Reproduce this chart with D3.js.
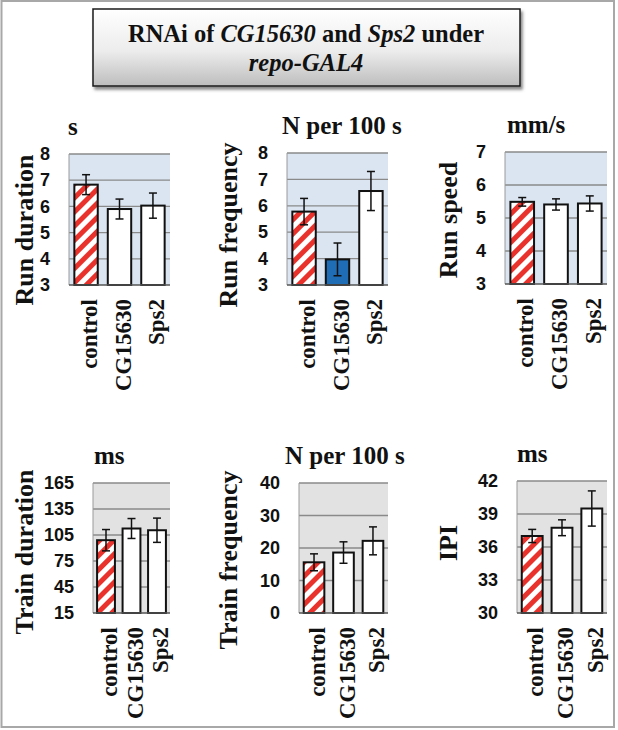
<!DOCTYPE html>
<html><head><meta charset="utf-8">
<script src="https://cdn.jsdelivr.net/npm/d3@7"></script>
<style>body{margin:0;background:#fff} svg{display:block}</style>
</head><body><svg id="c" width="618" height="730"></svg>
<script>
// ---------------- data ----------------
const categories = ["control", "CG15630", "Sps2"];

const runDuration = [6.83, 5.9, 6.03];
const runDurationErr = [0.38, 0.38, 0.48];
const runDurationTicks = [3, 4, 5, 6, 7, 8];

const runFrequency = [5.78, 3.97, 6.56];
const runFrequencyErr = [0.5, 0.62, 0.74];
const runFrequencyTicks = [3, 4, 5, 6, 7, 8];

const runSpeed = [5.49, 5.41, 5.44];
const runSpeedErr = [0.13, 0.17, 0.23];
const runSpeedTicks = [3, 4, 5, 6, 7];

const trainDuration = [99, 112.5, 110.5];
const trainDurationErr = [12.3, 11.5, 14];
const trainDurationTicks = [15, 45, 75, 105, 135, 165];

const trainFrequency = [15.6, 18.6, 22.2];
const trainFrequencyErr = [2.6, 3.3, 4.3];
const trainFrequencyTicks = [0, 10, 20, 30, 40];

const ipi = [37.0, 37.75, 39.5];
const ipiErr = [0.6, 0.72, 1.6];
const ipiTicks = [30, 33, 36, 39, 42];

const metricNames = ["Run duration", "Run frequency", "Run speed", "Train duration", "Train frequency", "IPI"];
const metricUnits = ["s", "N per 100 s", "mm/s", "ms", "N per 100 s", "ms"];
const significant = [[], ["CG15630"], [], [], [], []];

// ---------------- layout / style ----------------
const svg = d3.select("#c");
const serif = "'Liberation Serif','Times New Roman',serif";
const sans = "'Liberation Sans',Arial,sans-serif";
const RED = "#e8322b", BLUE = "#1f6db5", BGBLUE = "#dbe5f1", BGGRAY = "#e2e2e2";

const defs = svg.append("defs");
const pat = defs.append("pattern").attr("id", "stripes").attr("patternUnits", "userSpaceOnUse")
  .attr("width", 10).attr("height", 10).attr("patternTransform", "rotate(45)");
pat.append("rect").attr("width", 10).attr("height", 10).attr("fill", "#fff");
pat.append("rect").attr("width", 5).attr("height", 10).attr("fill", RED);

const grad = defs.append("linearGradient").attr("id", "tgrad").attr("x1", 0).attr("y1", 0).attr("x2", 0).attr("y2", 1);
grad.append("stop").attr("offset", "0%").attr("stop-color", "#ffffff");
grad.append("stop").attr("offset", "55%").attr("stop-color", "#ececec");
grad.append("stop").attr("offset", "100%").attr("stop-color", "#bdbdbd");
const filt = defs.append("filter").attr("id", "shadow").attr("x", "-5%").attr("y", "-10%").attr("width", "115%").attr("height", "140%");
filt.append("feDropShadow").attr("dx", 2).attr("dy", 3).attr("stdDeviation", 1.8).attr("flood-color", "#555").attr("flood-opacity", 0.7);

// outer frame
svg.append("rect").attr("x", 1.5).attr("y", 1).attr("width", 612.5).attr("height", 726)
  .attr("fill", "none").attr("stroke", "#a8a8a8").attr("stroke-width", 2);

// title box
svg.append("rect").attr("x", 93).attr("y", 9).attr("width", 427).attr("height", 77)
  .attr("fill", "url(#tgrad)").attr("stroke", "#1a1a1a").attr("stroke-width", 1.5).attr("filter", "url(#shadow)");
const t1 = svg.append("text").attr("x", 306).attr("y", 42).attr("text-anchor", "middle")
  .attr("font-family", serif).attr("font-weight", "bold").attr("font-size", 24.5).attr("fill", "#111");
t1.append("tspan").text("RNAi of ");
t1.append("tspan").attr("font-style", "italic").text("CG15630");
t1.append("tspan").text(" and ");
t1.append("tspan").attr("font-style", "italic").text("Sps2");
t1.append("tspan").text(" under");
svg.append("text").attr("x", 306).attr("y", 71).attr("text-anchor", "middle")
  .attr("font-family", serif).attr("font-weight", "bold").attr("font-style", "italic").attr("font-size", 24.5)
  .attr("fill", "#111").text("repo-GAL4");

const layout = [
  {x0: 69, x1: 170, y0: 154, y1: 285, bg: BGBLUE, tx: 33, ty: 230, ux: 68},
  {x0: 287, x1: 388, y0: 153, y1: 285, bg: BGBLUE, tx: 237, ty: 225, ux: 282},
  {x0: 505, x1: 607, y0: 152, y1: 284, bg: BGBLUE, tx: 457, ty: 220, ux: 507},
  {x0: 93, x1: 170, y0: 483, y1: 613, bg: BGGRAY, tx: 33, ty: 552, ux: 94},
  {x0: 299, x1: 388, y0: 483, y1: 613, bg: BGGRAY, tx: 237, ty: 560, ux: 285},
  {x0: 517, x1: 607, y0: 481, y1: 613, bg: BGGRAY, tx: 457, ty: 543, ux: 517}
];

const series = [
  [runDuration, runDurationErr, runDurationTicks],
  [runFrequency, runFrequencyErr, runFrequencyTicks],
  [runSpeed, runSpeedErr, runSpeedTicks],
  [trainDuration, trainDurationErr, trainDurationTicks],
  [trainFrequency, trainFrequencyErr, trainFrequencyTicks],
  [ipi, ipiErr, ipiTicks]
];

series.forEach(([vals, errs, ticks], i) => {
  const L = layout[i];
  const g = svg.append("g");
  const x = d3.scaleBand().domain(categories).range([L.x0, L.x1]).paddingInner(0.3).paddingOuter(0.16);
  const y = d3.scaleLinear().domain([ticks[0], ticks[ticks.length - 1]]).range([L.y1, L.y0]);

  g.append("rect").attr("x", L.x0).attr("y", L.y0).attr("width", L.x1 - L.x0).attr("height", L.y1 - L.y0).attr("fill", L.bg);
  // gridlines
  g.selectAll(".grid").data(ticks.slice(1)).enter().append("line")
    .attr("x1", L.x0).attr("x2", L.x1).attr("y1", d => y(d)).attr("y2", d => y(d))
    .attr("stroke", "#8a8a8a").attr("stroke-width", 1.3);
  // left axis line
  g.append("line").attr("x1", L.x0).attr("x2", L.x0).attr("y1", L.y0).attr("y2", L.y1).attr("stroke", "#9a9a9a").attr("stroke-width", 1);

  // y axis via d3.axisLeft
  const ax = g.append("g").attr("transform", `translate(${L.x0 - 19},0)`)
    .call(d3.axisLeft(y).tickValues(ticks).tickSize(0).tickPadding(0).tickFormat(d3.format("d")));
  ax.select(".domain").remove();
  ax.selectAll("text").attr("font-family", sans).attr("font-weight", "bold").attr("font-size", 18).attr("fill", "#111");

  // bars
  const data = categories.map((c, k) => ({c, v: vals[k], e: errs[k]}));
  g.selectAll(".bar").data(data).enter().append("rect")
    .attr("x", d => x(d.c)).attr("width", x.bandwidth())
    .attr("y", d => y(d.v)).attr("height", d => y(ticks[0]) - y(d.v))
    .attr("fill", d => d.c === "control" ? "url(#stripes)" : (significant[i].includes(d.c) ? BLUE : "#fff"))
    .attr("stroke", "#111").attr("stroke-width", 2);

  // bottom axis
  g.append("line").attr("x1", L.x0).attr("x2", L.x1).attr("y1", L.y1).attr("y2", L.y1).attr("stroke", "#555").attr("stroke-width", 1.5);

  // error bars
  const eb = g.selectAll(".eb").data(data).enter().append("g").attr("stroke", "#111").attr("stroke-width", 1.5);
  eb.append("line").attr("x1", d => x(d.c) + x.bandwidth() / 2).attr("x2", d => x(d.c) + x.bandwidth() / 2)
    .attr("y1", d => y(d.v - d.e)).attr("y2", d => y(d.v + d.e));
  [-1, 1].forEach(s => {
    eb.append("line").attr("x1", d => x(d.c) + x.bandwidth() / 2 - 4).attr("x2", d => x(d.c) + x.bandwidth() / 2 + 4)
      .attr("y1", d => y(d.v + s * d.e)).attr("y2", d => y(d.v + s * d.e));
  });

  // category labels
  g.selectAll(".cat").data(categories).enter().append("text")
    .attr("transform", d => `translate(${x(d) + x.bandwidth() / 2 + 3},${L.y1 + 14}) rotate(-90)`)
    .attr("text-anchor", "end").attr("dy", "0.35em")
    .attr("font-family", serif).attr("font-weight", "bold").attr("font-size", 23).attr("fill", "#111")
    .text(d => d);

  // axis title
  g.append("text").attr("transform", `translate(${L.tx},${L.ty}) rotate(-90)`).attr("text-anchor", "middle")
    .attr("font-family", serif).attr("font-weight", "bold").attr("font-size", 26).attr("fill", "#111")
    .text(metricNames[i]);
  // unit
  g.append("text").attr("x", L.ux).attr("y", L.y0 - 19)
    .attr("font-family", serif).attr("font-weight", "bold").attr("font-size", 25).attr("fill", "#111")
    .text(metricUnits[i]);
});
</script></body></html>
